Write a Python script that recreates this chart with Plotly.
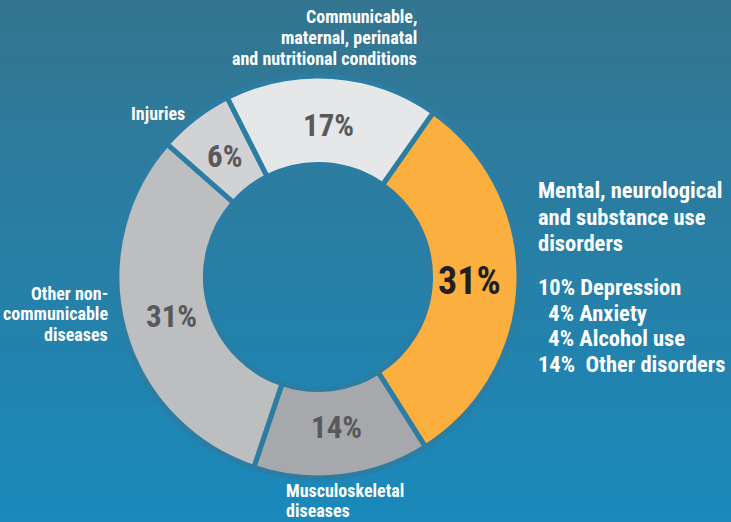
import math
import plotly.graph_objects as go

categories = ["Mental, neurological and substance use disorders",
              "Musculoskeletal diseases",
              "Other non-communicable diseases",
              "Injuries",
              "Communicable, maternal, perinatal and nutritional conditions"]
values = [31, 14, 31, 6, 17]
slice_labels = ["31%", "14%", "31%", "6%", "17%"]
slice_colors = ["#FBAF3F", "#A7A8AB", "#BDBEC0", "#D1D2D4", "#E6E7E8"]
text_colors = ["#231F20", "#58595B", "#58595B", "#58595B", "#58595B"]
text_sizes = [38, 31, 31, 31, 31]

mns_title = ["Mental, neurological", "and substance use", "disorders"]
mns_breakdown = ["10% Depression", "  4% Anxiety", "  4% Alcohol use", "14%  Other disorders"]

W, H = 731, 522
FONT = "Roboto Condensed, Liberation Sans Narrow, Roboto, sans-serif"
ROTATION = 35

# background gradient strips
top = (52, 117, 144)
bot = (26, 137, 187)
shapes = []
n = 80
for i in range(n):
    t = i / (n - 1)
    c = tuple(int(round(top[k] + (bot[k] - top[k]) * t)) for k in range(3))
    shapes.append(dict(type="rect", xref="paper", yref="paper",
                       x0=0, x1=1, y0=1 - (i + 1) / n, y1=1 - i / n + 0.002,
                       fillcolor="rgb(%d,%d,%d)" % c, line=dict(width=0), layer="below"))

cx, cy, r = 318, 277, 201
fig = go.Figure(go.Pie(
    labels=categories, values=values, textinfo="none",
    marker=dict(colors=slice_colors, line=dict(color="#2B7DA3", width=5)),
    hole=0.56, sort=False, direction="clockwise", rotation=ROTATION,
    domain=dict(x=[(cx - r) / W, (cx + r) / W], y=[(H - cy - r) / H, (H - cy + r) / H]),
    showlegend=False, hoverinfo="label+percent"))

annotations = []

# percentage labels placed at the middle angle of each slice
total = sum(values)
label_r = 152
cum = 0
for v, txt, col, sz in zip(values, slice_labels, text_colors, text_sizes):
    mid = ROTATION + (cum + v / 2) / total * 360
    cum += v
    a = math.radians(mid)
    px = cx + label_r * math.sin(a)
    py = cy - label_r * math.cos(a)
    annotations.append(dict(x=px / W, y=1 - py / H, xref="paper", yref="paper", text=txt,
                            showarrow=False, xanchor="center", yanchor="middle",
                            font=dict(family=FONT, size=sz, color=col, weight="bold")))

def lines(x, y0, step, texts, size, xanchor):
    for i, t in enumerate(texts):
        annotations.append(dict(x=x / W, y=1 - (y0 + i * step) / H, xref="paper", yref="paper",
                                text=t.replace("  ", "&nbsp;&nbsp;"), showarrow=False,
                                xanchor=xanchor, yanchor="middle",
                                font=dict(family=FONT, size=size, color="white", weight="bold")))

lines(419, 16, 21, ["Communicable,", "maternal, perinatal", "and nutritional conditions"], 18, "right")
lines(187, 113, 21, ["Injuries"], 18, "right")
lines(110, 293, 20.5, ["Other non-", "communicable", "diseases"], 18, "right")
lines(284, 490, 20, ["Musculoskeletal", "diseases"], 18, "left")
lines(536, 190, 26.5, mns_title, 22.5, "left")
lines(536, 287, 25.7, mns_breakdown, 22.5, "left")

fig.update_layout(width=W, height=H, margin=dict(l=0, r=0, t=0, b=0),
                  paper_bgcolor="#2A7EA5", plot_bgcolor="#2A7EA5",
                  shapes=shapes, annotations=annotations)
fig.write_html("out.html", config={"displayModeBar": False},
               post_script="document.body.style.margin='0';document.body.style.overflow='hidden';")
